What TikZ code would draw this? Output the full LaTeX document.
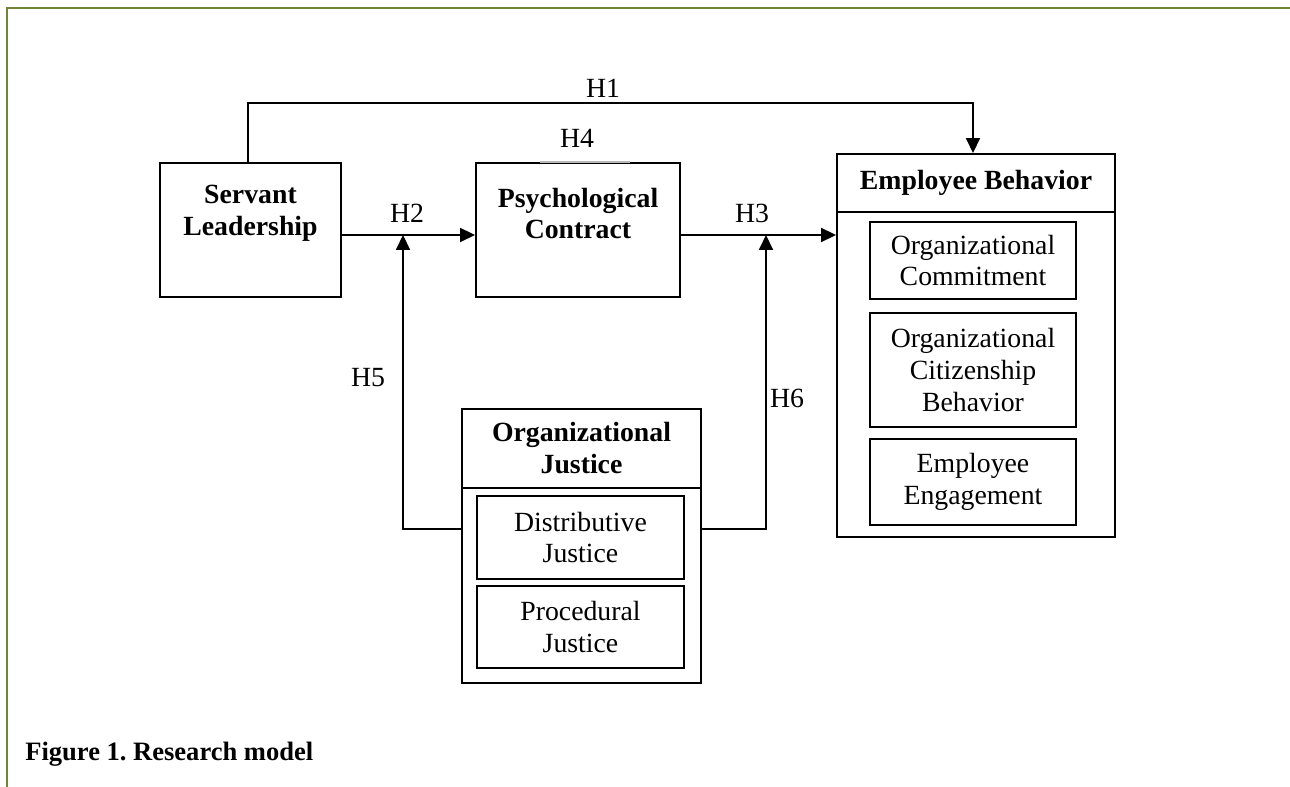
\documentclass[tikz,border=0pt]{standalone}
\usepackage{fontspec}
\setmainfont{Liberation Serif}
\usetikzlibrary{arrows.meta,calc}

\definecolor{frameolive}{RGB}{112,132,58}
\frenchspacing

\begin{document}
\begin{tikzpicture}[scale=1.0,
    box/.style={draw, line width=1.1pt, inner sep=0pt},
    head/.style={font=\fontsize{15.8}{18.1}\selectfont\bfseries, align=center},
    item/.style={font=\fontsize{15.8}{18.1}\selectfont, align=center},
    hyp/.style={font=\fontsize{15.8}{18.1}\selectfont},
    link/.style={line width=0.8pt, -{Triangle[length=8.5pt,width=8pt]}}]
  \useasboundingbox (0,0) rectangle (25.8,15.74);

  % page frame (left and top only)
  \draw[frameolive, line width=1.6pt] (0.14,0) -- (0.14,15.58) -- (25.8,15.58);

  % Servant Leadership
  \node[box, minimum width=3.62cm, minimum height=2.68cm] (SL) at (5.01,11.14) {};
  \node[head] (SLtxt) at ([yshift=0.33cm]SL.center) {Servant\\Leadership};

  % Psychological Contract
  \node[box, minimum width=4.08cm, minimum height=2.68cm] (PC) at (11.56,11.14) {};
  \node[head] (PCtxt) at ([yshift=0.33cm]PC.center) {Psychological\\Contract};
  \draw[gray!55, line width=1.1pt] ([xshift=-0.76cm]PC.north) -- ([xshift=1.04cm]PC.north);

  % Employee Behavior with its three dimensions
  \node[box, minimum width=5.56cm, minimum height=7.66cm] (EB) at (19.52,8.83) {};
  \draw[line width=1.1pt] (EB.west |- 0,11.5) -- (EB.east |- 0,11.5);
  \node[head] (EBtxt) at (19.52,12.08) {Employee Behavior};
  \node[box, item, minimum width=4.12cm, minimum height=1.54cm] (OC) at (19.46,10.53)
    {Organizational\\Commitment};
  \node[box, item, minimum width=4.12cm, minimum height=2.28cm] (OCB) at (19.46,8.34)
    {Organizational\\Citizenship\\Behavior};
  \node[box, item, minimum width=4.12cm, minimum height=1.72cm] (EE) at (19.46,6.1)
    {Employee\\Engagement};

  % Organizational Justice with its two dimensions
  \node[box, minimum width=4.78cm, minimum height=5.48cm] (OJ) at (11.63,4.82) {};
  \draw[line width=1.1pt] (OJ.west |- 0,5.98) -- (OJ.east |- 0,5.98);
  \node[head] (OJtxt) at (11.63,6.78) {Organizational\\Justice};
  \node[box, item, minimum width=4.14cm, minimum height=1.66cm] (DJ) at (11.61,4.99)
    {Distributive\\Justice};
  \node[box, item, minimum width=4.14cm, minimum height=1.64cm] (PJ) at (11.61,3.2)
    {Procedural\\Justice};

  % junctions of the moderating paths
  \coordinate (j5) at (8.06,11.04);
  \coordinate (j6) at (15.32,11.04);

  % paths
  \draw[link] ([xshift=-0.05cm]SL.north) -- ++(0,1.18) -| ([xshift=-0.06cm]EB.north);
  \draw[link] ([yshift=-0.1cm]SL.east) -- ([yshift=-0.1cm]PC.west);
  \draw[link] ([yshift=-0.1cm]PC.east) -- (EB.west |- j6);
  \draw[link] ([yshift=0.34cm]OJ.west) -| (j5);
  \draw[link] ([yshift=0.34cm]OJ.east) -| (j6);

  % hypothesis labels
  \node[hyp] (H1) at (12.06,13.98) {H1};
  \node[hyp] (H2) at (8.14,11.48) {H2};
  \node[hyp] (H3) at (15.04,11.48) {H3};
  \node[hyp] (H4) at (11.54,12.98) {H4};
  \node[hyp] (H5) at (7.36,8.18) {H5};
  \node[hyp] (H6) at (15.74,7.78) {H6};

  % caption
  \node[anchor=west, font=\fontsize{15.1}{17.4}\selectfont\bfseries, inner sep=0pt]
    (cap) at (0.5,0.66) {Figure 1. Research model};
\end{tikzpicture}
\end{document}
